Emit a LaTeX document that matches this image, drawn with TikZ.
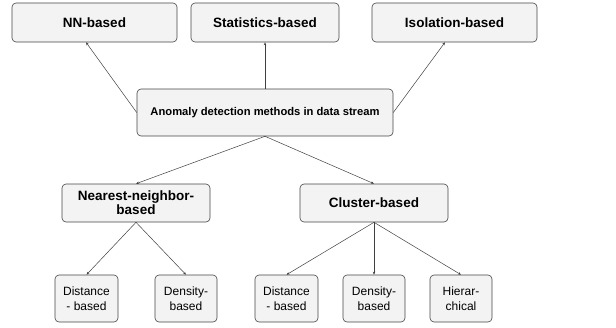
\documentclass[tikz,border=0pt]{standalone}
\usepackage{fontspec}
\setmainfont{Liberation Sans}
\usepackage{xcolor}
\usepackage{tikz}
\usetikzlibrary{arrows.meta,positioning}
\definecolor{boxline}{RGB}{70,70,70}
\definecolor{boxfill}{RGB}{243,243,243}
\tikzset{
  mbox/.style={rectangle,rounded corners=4pt,draw=boxline,fill=boxfill,line width=0.6pt,
               minimum width=#1,minimum height=39pt,align=center,
               font=\fontsize{13.5}{15}\selectfont\bfseries,inner sep=2pt},
  mbox/.default=150pt,
  sbox/.style={rectangle,rounded corners=4pt,draw=boxline,fill=boxfill,line width=0.6pt,
               minimum width=#1,minimum height=47pt,align=center,
               font=\fontsize{12}{15}\selectfont,inner sep=2pt},
  sbox/.default=62pt,
  arr/.style={-{Stealth[length=3pt,width=2.5pt]},line width=0.5pt,color=black!75},
}

\begin{document}
\begin{tikzpicture}[x=1pt,y=-1pt]
  \useasboundingbox (0,0) rectangle (616,327);

  % --- top level ---
  \node[mbox=165pt] (nn) at (94.5,22.5) {NN-based};
  \node[mbox=148pt] (stat) at (265,22.5) {Statistics-based};
  \node[mbox=165pt] (iso) at (454.5,22.5) {Isolation-based};

  \node[mbox=256pt, minimum height=47pt, font=\fontsize{11.2}{13}\selectfont\bfseries]
    (root) at (265,112.5) {Anomaly detection methods in data stream};

  \draw[arr] (root.west) -- (nn.south -| 86,0);
  \draw[arr] (root.north) -- (stat.south);
  \draw[arr] (root.east) -- (iso.south -| 445,0);

  % --- second level ---
  \node[mbox=148pt, minimum height=38pt, font=\fontsize{13.5}{14}\selectfont\bfseries]
    (nnb) at (136,203) {Nearest-neighbor-\\based};
  \node[mbox=148pt, minimum height=38pt] (clu) at (374,203) {Cluster-based};

  \draw[arr] (root.south) -- (nnb.north);
  \draw[arr] (root.south) -- (clu.north);

  % --- leaves ---
  \node[sbox=63pt] (dist1) at (86.5,298.5) {Distance\\- based};
  \node[sbox] (dens1) at (186,298.5) {Density-\\based};
  \node[sbox=63pt] (dist2) at (286.5,298.5) {Distance\\- based};
  \node[sbox] (dens2) at (374,298.5) {Density-\\based};
  \node[sbox] (hier) at (461,298.5) {Hierar-\\chical};

  \draw[arr] (nnb.south) -- (dist1.north);
  \draw[arr] (nnb.south) -- (dens1.north);
  \draw[arr] (clu.south) -- (dist2.north);
  \draw[arr] (clu.south) -- (dens2.north);
  \draw[arr] (clu.south) -- (hier.north);
\end{tikzpicture}
\end{document}
